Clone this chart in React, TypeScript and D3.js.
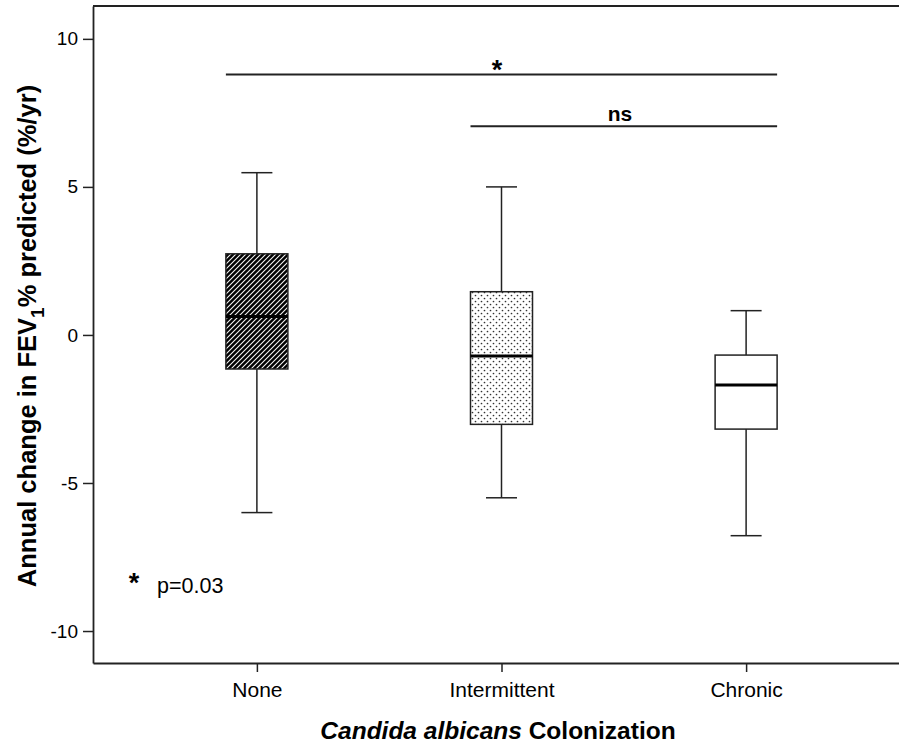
import React, { useEffect, useRef } from 'react';
import * as d3 from 'd3';

// groups and box statistics (%/yr)
const groups = ['None', 'Intermittent', 'Chronic'];
const whiskerLow = [-6.0, -5.5, -6.78];
const q1 = [-1.15, -3.02, -3.18];
const median = [0.62, -0.71, -1.69];
const q3 = [2.74, 1.46, -0.68];
const whiskerHigh = [5.48, 5.0, 0.82];
const fills = ['url(#hatch)', 'url(#dots)', '#fff'];

const yTicks = [-10, -5, 0, 5, 10];

// significance brackets: from group, to group, height, label
const sigFrom = ['None', 'Intermittent'];
const sigTo = ['Chronic', 'Chronic'];
const sigY = [8.8, 7.05];
const sigLabel = ['*', 'ns'];

const App = () => {
  const ref = useRef<SVGSVGElement>(null);

  useEffect(() => {
    const svg = d3.select(ref.current);
    svg.selectAll('*').remove();

    const left = 93, top = 6, bottom = 663, right = 910;
    const font = '"Liberation Sans", Arial, sans-serif';
    const ink = '#222';

    const defs = svg.append('defs');
    const hatch = defs.append('pattern').attr('id', 'hatch')
      .attr('patternUnits', 'userSpaceOnUse').attr('width', 5).attr('height', 5);
    hatch.append('rect').attr('width', 5).attr('height', 5).attr('fill', '#000');
    hatch.append('path').attr('d', 'M-1,1 L1,-1 M0,5 L5,0 M4,6 L6,4')
      .attr('stroke', '#f4f4f4').attr('stroke-width', 1.1);
    const dots = defs.append('pattern').attr('id', 'dots')
      .attr('patternUnits', 'userSpaceOnUse').attr('width', 6).attr('height', 6);
    dots.append('rect').attr('width', 6).attr('height', 6).attr('fill', '#fff');
    dots.append('circle').attr('cx', 1.5).attr('cy', 1.5).attr('r', 0.85).attr('fill', '#333');
    dots.append('circle').attr('cx', 4.5).attr('cy', 4.5).attr('r', 0.85).attr('fill', '#333');

    const y = d3.scaleLinear().domain([-11.08, 11.11]).range([bottom, top]);
    const x = d3.scalePoint().domain(groups).range([left, right]).padding(0.67);
    const boxW = 62;

    // frame: top line
    svg.append('line').attr('x1', left).attr('x2', right).attr('y1', top).attr('y2', top)
      .attr('stroke', ink).attr('stroke-width', 1.8);

    // Y axis
    const yAxis = svg.append('g').attr('transform', `translate(${left},0)`)
      .call(d3.axisLeft(y).tickValues(yTicks).tickSize(10).tickSizeOuter(0).tickPadding(5)
        .tickFormat(d => String(d)));
    yAxis.select('.domain').attr('stroke', ink).attr('stroke-width', 1.8);
    yAxis.selectAll('.tick line').attr('stroke', ink).attr('stroke-width', 1.5);
    yAxis.selectAll('.tick text').attr('font-family', font).attr('font-size', 19).attr('fill', '#000');

    // X axis
    const xAxis = svg.append('g').attr('transform', `translate(0,${bottom})`)
      .call(d3.axisBottom(x).tickSize(9).tickSizeOuter(0).tickPadding(10));
    xAxis.select('.domain').attr('stroke', ink).attr('stroke-width', 1.8);
    xAxis.selectAll('.tick line').attr('stroke', ink).attr('stroke-width', 1.5);
    xAxis.selectAll('.tick text').attr('font-family', font).attr('font-size', 21).attr('fill', '#000');

    // boxes
    const g = svg.append('g').selectAll('g').data(groups).join('g');
    g.append('line')
      .attr('x1', d => x(d)!).attr('x2', d => x(d)!)
      .attr('y1', (d, i) => y(whiskerHigh[i])).attr('y2', (d, i) => y(q3[i]))
      .attr('stroke', ink).attr('stroke-width', 1.5);
    g.append('line')
      .attr('x1', d => x(d)!).attr('x2', d => x(d)!)
      .attr('y1', (d, i) => y(q1[i])).attr('y2', (d, i) => y(whiskerLow[i]))
      .attr('stroke', ink).attr('stroke-width', 1.5);
    [whiskerHigh, whiskerLow].forEach(arr => {
      g.append('line')
        .attr('x1', d => x(d)! - boxW / 4).attr('x2', d => x(d)! + boxW / 4)
        .attr('y1', (d, i) => y(arr[i])).attr('y2', (d, i) => y(arr[i]))
        .attr('stroke', ink).attr('stroke-width', 1.5);
    });
    g.append('rect')
      .attr('x', d => x(d)! - boxW / 2).attr('width', boxW)
      .attr('y', (d, i) => y(q3[i])).attr('height', (d, i) => y(q1[i]) - y(q3[i]))
      .attr('fill', (d, i) => fills[i]).attr('stroke', ink).attr('stroke-width', 1.5);
    g.append('line')
      .attr('x1', d => x(d)! - boxW / 2).attr('x2', d => x(d)! + boxW / 2)
      .attr('y1', (d, i) => y(median[i])).attr('y2', (d, i) => y(median[i]))
      .attr('stroke', '#000').attr('stroke-width', 3);

    // significance brackets
    sigLabel.forEach((lab, i) => {
      const x1 = x(sigFrom[i])! - boxW / 2, x2 = x(sigTo[i])! + boxW / 2;
      svg.append('line').attr('x1', x1).attr('x2', x2)
        .attr('y1', y(sigY[i])).attr('y2', y(sigY[i]))
        .attr('stroke', ink).attr('stroke-width', 2);
    });
    svg.append('text').attr('x', 497).attr('y', y(sigY[0]) + 5).attr('text-anchor', 'middle')
      .attr('font-family', font).attr('font-weight', 'bold').attr('font-size', 27).text(sigLabel[0]);
    svg.append('text').attr('x', 620).attr('y', y(sigY[1]) - 5).attr('text-anchor', 'middle')
      .attr('font-family', font).attr('font-weight', 'bold').attr('font-size', 21).text(sigLabel[1]);

    // p value note
    svg.append('text').attr('x', 134).attr('y', 592).attr('text-anchor', 'middle')
      .attr('font-family', font).attr('font-weight', 'bold').attr('font-size', 27).text('*');
    svg.append('text').attr('x', 157).attr('y', 593)
      .attr('font-family', font).attr('font-size', 21.5).text('p=0.03');

    // Y title
    const yt = svg.append('text').attr('transform', `translate(36,336) rotate(-90)`)
      .attr('text-anchor', 'middle').attr('font-family', font).attr('font-weight', 'bold')
      .attr('font-size', 25.5);
    yt.append('tspan').text('Annual change in FEV');
    yt.append('tspan').attr('dy', 8).attr('font-size', 19).text('1');
    yt.append('tspan').attr('dy', -8).text('% predicted (%/yr)');

    // X title
    const xt = svg.append('text').attr('x', 498).attr('y', 739).attr('text-anchor', 'middle')
      .attr('font-family', font).attr('font-weight', 'bold').attr('font-size', 24.5);
    xt.append('tspan').attr('font-style', 'italic').text('Candida albicans');
    xt.append('tspan').text(' Colonization');
  }, []);

  return (
    <svg ref={ref} width={899} height={744}
      style={{ position: 'absolute', left: 0, top: 0, background: '#fff' }} />
  );
};

export default App;
